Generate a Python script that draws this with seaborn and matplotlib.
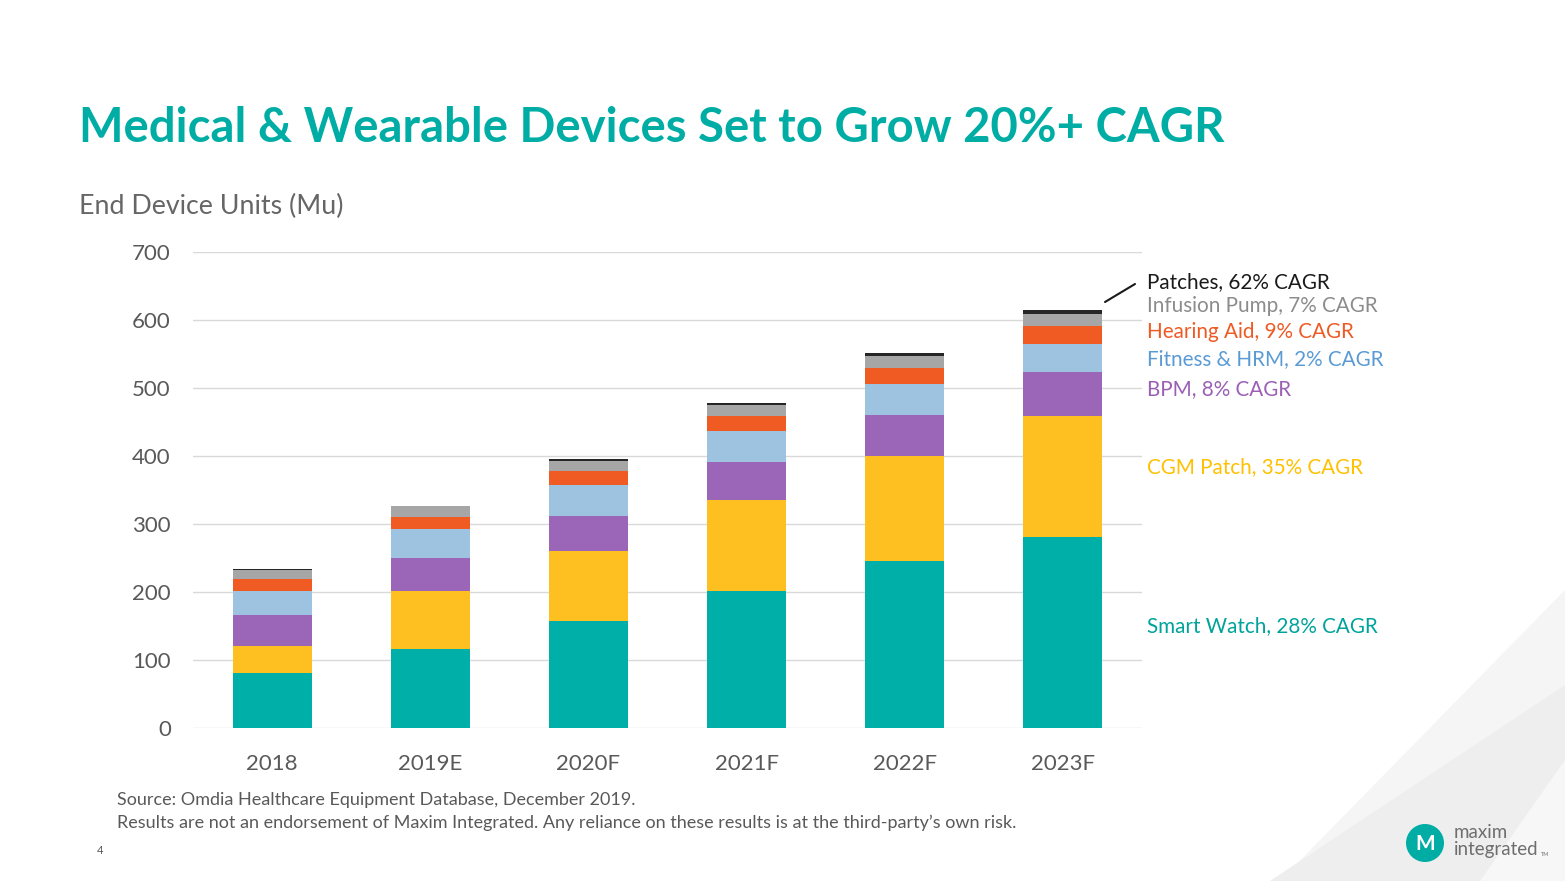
import numpy as np
import pandas as pd
import matplotlib
matplotlib.use("Agg")
import matplotlib.pyplot as plt
from matplotlib.lines import Line2D
from matplotlib.patches import Polygon, Circle
import seaborn as sns

# ---------------- data ----------------
years = ["2018", "2019E", "2020F", "2021F", "2022F", "2023F"]
smart_watch = [81, 116, 158, 202, 245, 281]
cgm_patch = [40, 86, 103, 133, 155, 178]
bpm = [45, 48, 51, 56, 61, 65]
fitness_hrm = [35, 42, 46, 46, 45, 40]
hearing_aid = [18, 18.5, 20, 22.5, 23.5, 26.5]
infusion_pump = [14, 15.5, 15, 16, 18, 19]
patches = [0.3, 1, 2, 2.5, 4.4, 5.4]

series_names = ["Smart Watch", "CGM Patch", "BPM", "Fitness & HRM",
                "Hearing Aid", "Infusion Pump", "Patches"]
series_values = [smart_watch, cgm_patch, bpm, fitness_hrm,
                 hearing_aid, infusion_pump, patches]
bar_colors = ["#00B0A8", "#FEC021", "#9B65B8", "#9EC3E0",
              "#F05A23", "#A6A6A6", "#262626"]
labels = ["Smart Watch, 28% CAGR", "CGM Patch, 35% CAGR", "BPM, 8% CAGR",
          "Fitness & HRM, 2% CAGR", "Hearing Aid, 9% CAGR",
          "Infusion Pump, 7% CAGR", "Patches, 62% CAGR"]
label_colors = ["#00A39B", "#FFC000", "#9B5FB5", "#5B9BD5",
                "#EE5A24", "#8C8C8C", "#1A1A1A"]
label_ypix = [626, 467, 389, 359, 332, 306, 282]

title = "Medical & Wearable Devices Set to Grow 20%+ CAGR"
subtitle = "End Device Units (Mu)"
source1 = "Source: Omdia Healthcare Equipment Database, December 2019."
source2 = ("Results are not an endorsement of Maxim Integrated. Any reliance "
           "on these results is at the third-party\u2019s own risk.")

# ---------------- build table ----------------
df = pd.DataFrame({"year": years})
for name, vals in zip(series_names, series_values):
    df[name] = vals
cum = df[series_names].cumsum(axis=1)
for name in series_names:
    df["cum_" + name] = cum[name]

# ---------------- figure ----------------
sns.set_theme(style="white")
plt.rcParams["font.family"] = ["Lato", "DejaVu Sans"]

W, H = 1565, 881
fig = plt.figure(figsize=(W / 100, H / 100), dpi=100)
fig.patch.set_facecolor("white")

def fx(px):
    return px / W

def fy(py):
    return 1 - py / H

# background decorative shapes (bottom right)
bg = fig.add_axes([0, 0, 1, 1], zorder=-5)
bg.set_xlim(0, W)
bg.set_ylim(H, 0)
bg.axis("off")
bg.add_patch(Polygon([[1565, 590], [1565, 881], [1280, 881]], closed=True,
                     facecolor="#F5F5F5", edgecolor="none"))
bg.add_patch(Polygon([[1565, 685], [1565, 881], [1270, 881]], closed=True,
                     facecolor="#EEEEEE", edgecolor="none"))
bg.add_patch(Polygon([[1565, 760], [1565, 881], [1480, 881]], closed=True,
                     facecolor="#F7F7F7", edgecolor="none"))

ax = fig.add_axes([fx(193), fy(728), fx(1142) - fx(193), fy(252) - fy(728)])
ax.set_facecolor("none")

for name, color in reversed(list(zip(series_names, bar_colors))):
    sns.barplot(data=df, x="year", y="cum_" + name, order=years, color=color,
                width=0.5, saturation=1, errorbar=None, ax=ax,
                linewidth=0, zorder=3)

ax.set_xlim(-0.5, 5.5)
ax.set_ylim(0, 700)
ax.set_yticks(range(0, 701, 100))
ax.yaxis.grid(True, color="#D9D9D9", linewidth=1)
ax.set_axisbelow(True)
for s in ax.spines.values():
    s.set_visible(False)
ax.set_xlabel("")
ax.set_ylabel("")
ax.tick_params(axis="y", length=0, pad=16, labelsize=16, labelcolor="#595959")
ax.tick_params(axis="x", length=0, pad=19, labelsize=16, labelcolor="#595959")

# ---------------- texts ----------------
fig.text(fx(79), fy(128), title, fontsize=34, fontweight="bold",
         color="#00ADA5", ha="left", va="center")
fig.text(fx(79), fy(206), subtitle, fontsize=19.3, color="#666666",
         ha="left", va="center")

for lab, col, ypx in zip(labels, label_colors, label_ypix):
    fig.text(fx(1147), fy(ypx), lab, fontsize=14.9, color=col,
             ha="left", va="center")

fig.add_artist(Line2D([fx(1105), fx(1135)], [fy(302), fy(284)],
                      color="#1A1A1A", linewidth=1.5))

fig.text(fx(117), fy(800), source1, fontsize=13, color="#595959",
         ha="left", va="center")
fig.text(fx(117), fy(823), source2, fontsize=13, color="#595959",
         ha="left", va="center")
fig.text(fx(97), fy(851), "4", fontsize=8, color="#595959",
         ha="left", va="center")

# logo
bg.add_patch(Circle((1425, 843), 19, facecolor="#00ADA5", edgecolor="none"))
bg.text(1425, 844, "M", fontsize=15, fontweight="bold", color="white",
        ha="center", va="center")
bg.text(1454, 832, "maxim", fontsize=13.5, color="#6E6E6E",
        ha="left", va="center")
bg.text(1454, 849, "integrated", fontsize=13.5, color="#6E6E6E",
        ha="left", va="center")
bg.text(1541, 854, "TM", fontsize=4, color="#6E6E6E", ha="left", va="center")

fig.savefig("out.png", dpi=100, facecolor="white")
